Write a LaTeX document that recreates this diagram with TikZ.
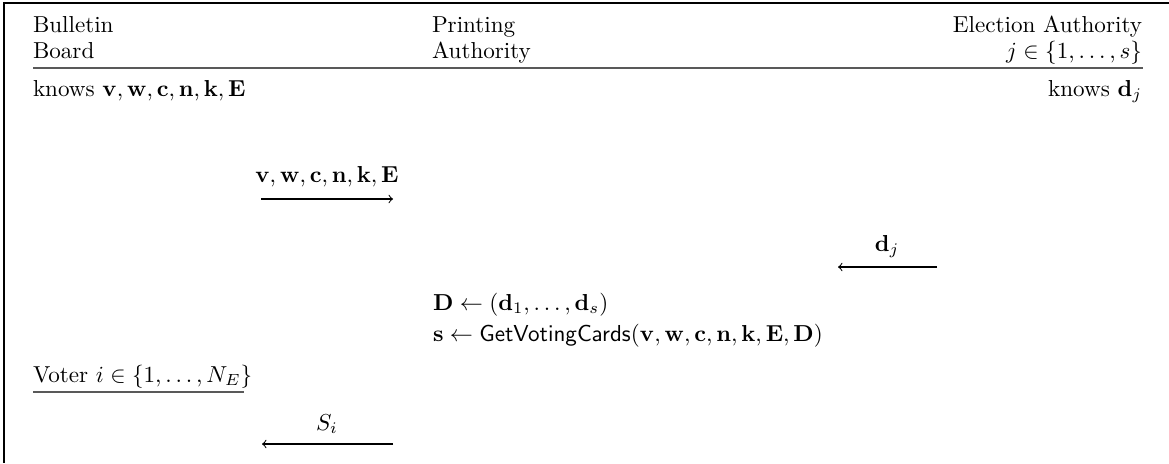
\documentclass[tikz,border=0pt]{standalone}
\usepackage{amsmath,amssymb}
\begin{document}
\begin{tikzpicture}[x=0.433pt,y=-0.433pt,
  txt/.style={inner sep=0pt, outer sep=0pt},
  msg/.style={->, line width=0.45pt},
  rule/.style={black!65, line width=0.7pt},
  frame/.style={black, line width=0.8pt}]
\useasboundingbox (0,0) rectangle (1169,463);
% frame
\coordinate (tl) at (4,3);
\coordinate (tr) at (1169,3);
\coordinate (bl) at (4,463);
\draw[frame] (tr) -- (tl) -- (bl);
% header
\node[txt, anchor=base west] (bb1) at (33,32) {Bulletin};
\node[txt, anchor=base west] (bb2) at (33,58) {Board};
\node[txt, anchor=base west] (pa1) at (432,32) {Printing};
\node[txt, anchor=base west] (pa2) at (432,58) {Authority};
\node[txt, anchor=base east] (ea1) at (1142,32) {Election Authority};
\node[txt, anchor=base east] (ea2) at (1142,58) {$j\in\{1,\ldots,s\}$};
\coordinate (hl) at (33,68);
\coordinate (hr) at (1143,68);
\draw[rule] (hl) -- (hr);
% knowledge
\node[txt, anchor=base west] (kb) at (33,96) {knows $\mathbf{v},\mathbf{w},\mathbf{c},\mathbf{n},\mathbf{k},\mathbf{E}$};
\node[txt, anchor=base east] (ke) at (1142,96) {knows $\mathbf{d}_j$};
% message 1
\coordinate (m1a) at (261,199);
\coordinate (m1b) at (393,199);
\draw[msg] (m1a) -- (m1b);
\node[txt, anchor=base] (m1l) at (327,182) {$\mathbf{v},\mathbf{w},\mathbf{c},\mathbf{n},\mathbf{k},\mathbf{E}$};
% message 2
\coordinate (m2a) at (937,267);
\coordinate (m2b) at (838,267);
\draw[msg] (m2a) -- (m2b);
\node[txt, anchor=base] (m2l) at (887,251) {$\mathbf{d}_j$};
% computations
\node[txt, anchor=base west] (c1) at (433,310) {$\mathbf{D}\leftarrow(\mathbf{d}_1,\ldots,\mathbf{d}_s)$};
\node[txt, anchor=base west] (c2) at (433,341) {$\mathbf{s}\leftarrow\mathsf{GetVotingCards}(\mathbf{v},\mathbf{w},\mathbf{c},\mathbf{n},\mathbf{k},\mathbf{E},\mathbf{D})$};
% voter
\node[txt, anchor=base west] (vo) at (33,382) {Voter $i\in\{1,\ldots,N_E\}$};
\coordinate (vl) at (33,392);
\coordinate (vr) at (244,392);
\draw[rule] (vl) -- (vr);
% message 3
\coordinate (m3a) at (393,444);
\coordinate (m3b) at (262,444);
\draw[msg] (m3a) -- (m3b);
\node[txt, anchor=base] (m3l) at (327,430) {$S_i$};
\end{tikzpicture}
\end{document}
